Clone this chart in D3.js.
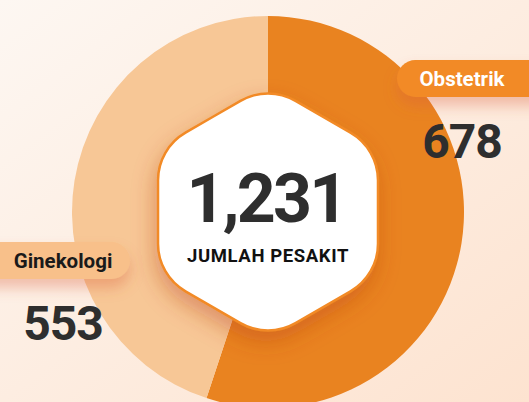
<!DOCTYPE html>
<html>
<head>
<meta charset="utf-8">
<script src="https://cdn.jsdelivr.net/npm/d3@7"></script>
<style>
  html, body { margin: 0; padding: 0; overflow: hidden; }
  body { width: 529px; height: 402px; font-family: Roboto, "Noto Sans", sans-serif; }
</style>
</head>
<body>
<svg id="chart" width="529" height="402"></svg>
<script>
// Patient counts per department
const categories = ["Obstetrik", "Ginekologi"];
const patientCounts = [678, 553];
const sliceColors = ["#E98320", "#F7C796"];
const pillColors = ["#F28A25", "#F8C08A"];
const pillTextColors = ["#FFFFFF", "#1A1A1A"];
const totalLabel = "JUMLAH PESAKIT";

const W = 529, H = 402;
const cx = 268, cy = 212;
const outerR = 196, innerR = 100;

const svg = d3.select("#chart");
const defs = svg.append("defs");

// page background: soft peach diagonal gradient
const bg = defs.append("linearGradient").attr("id", "bg")
  .attr("x1", "0").attr("y1", "0").attr("x2", "1").attr("y2", "1");
bg.append("stop").attr("offset", "0%").attr("stop-color", "#FDF7F2");
bg.append("stop").attr("offset", "100%").attr("stop-color", "#FDE3D0");

const hexShadow = defs.append("filter").attr("id", "hexShadow")
  .attr("x", "-30%").attr("y", "-30%").attr("width", "160%").attr("height", "160%");
hexShadow.append("feDropShadow").attr("dx", -2).attr("dy", 10)
  .attr("stdDeviation", 11).attr("flood-color", "#B8401A").attr("flood-opacity", 0.4);

const pillShadow = defs.append("filter").attr("id", "pillShadow")
  .attr("x", "-30%").attr("y", "-50%").attr("width", "160%").attr("height", "250%");
pillShadow.append("feDropShadow").attr("dx", 0).attr("dy", 9)
  .attr("stdDeviation", 7).attr("flood-color", "#D9603A").attr("flood-opacity", 0.35);

svg.append("rect").attr("width", W).attr("height", H).attr("fill", "url(#bg)");

// donut
const pie = d3.pie().sort(null).value(d => d)(patientCounts);
const arc = d3.arc().innerRadius(innerR).outerRadius(outerR);
const g = svg.append("g").attr("transform", `translate(${cx},${cy})`);
g.selectAll("path.slice").data(pie).join("path")
  .attr("class", "slice")
  .attr("d", arc)
  .attr("fill", (d, i) => sliceColors[i]);

// rounded hexagon in the middle
const hexR = 127, cornerR = 55;
const verts = d3.range(6).map(k => {
  const a = (-90 + 60 * k) * Math.PI / 180;
  return [hexR * Math.cos(a), hexR * Math.sin(a)];
});
const hp = d3.path();
const mid = (p, q) => [(p[0] + q[0]) / 2, (p[1] + q[1]) / 2];
const start = mid(verts[5], verts[0]);
hp.moveTo(start[0], start[1]);
for (let k = 0; k < 6; k++) {
  const v = verts[k], n = verts[(k + 1) % 6];
  const m = mid(v, n);
  hp.arcTo(v[0], v[1], m[0], m[1], cornerR);
}
hp.closePath();
g.append("path")
  .attr("d", hp.toString())
  .attr("fill", "#FFFFFF")
  .attr("stroke", "#F28A25")
  .attr("stroke-width", 2.5)
  .attr("filter", "url(#hexShadow)");

const total = d3.sum(patientCounts);
g.append("text")
  .attr("x", -2).attr("y", 10)
  .attr("text-anchor", "middle")
  .attr("font-size", 68).attr("font-weight", 700)
  .attr("letter-spacing", -2.8)
  .attr("fill", "#2E2E2E")
  .text(d3.format(",")(total));
g.append("text")
  .attr("x", 0).attr("y", 50)
  .attr("text-anchor", "middle")
  .attr("font-size", 18.5).attr("font-weight", 700)
  .attr("letter-spacing", 0.6)
  .attr("fill", "#111111")
  .text(totalLabel);

// category pills with value beneath
const labelPos = [
  { px: 397, py: 60, pw: 160, tx: 462, vy: 158 },
  { px: -30, py: 242, pw: 160, tx: 63, vy: 340 }
];
categories.forEach((c, i) => {
  const p = labelPos[i];
  svg.append("rect")
    .attr("x", p.px).attr("y", p.py)
    .attr("width", p.pw).attr("height", 37)
    .attr("rx", 18.5)
    .attr("fill", pillColors[i])
    .attr("filter", "url(#pillShadow)");
  svg.append("text")
    .attr("x", p.tx).attr("y", p.py + 26)
    .attr("text-anchor", "middle")
    .attr("font-size", 20.5).attr("font-weight", 700)
    .attr("fill", pillTextColors[i])
    .text(c);
  svg.append("text")
    .attr("x", p.tx).attr("y", p.vy)
    .attr("text-anchor", "middle")
    .attr("font-size", 48).attr("font-weight", 700)
    .attr("letter-spacing", -1)
    .attr("fill", "#2E2E2E")
    .text(patientCounts[i]);
});
</script>
</body>
</html>
